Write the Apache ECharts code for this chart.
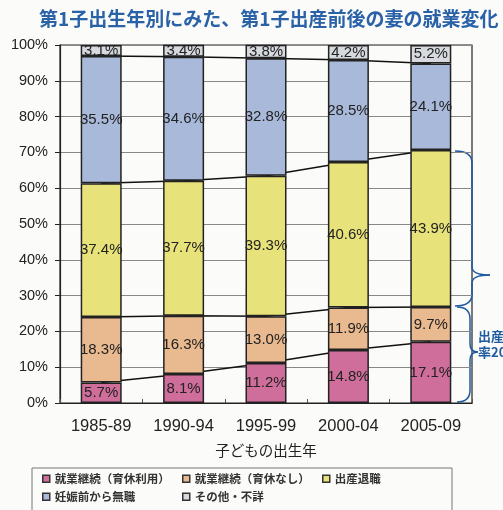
<!DOCTYPE html>
<html>
<head>
<meta charset="utf-8">
<script src="https://cdn.jsdelivr.net/npm/echarts@6/dist/echarts.min.js"></script>
<style>
html, body { margin: 0; padding: 0; background: #fbfbf9; }
#chart { width: 503px; height: 510px; }
</style>
</head>
<body>
<div id="chart"></div>
<script>
// 子どもの出生年
var years = ['1985-89', '1990-94', '1995-99', '2000-04', '2005-09'];
// 各区分の割合(%)
var ikukyuRiyou = [5.7, 8.1, 11.2, 14.8, 17.1];
var ikukyuNashi = [18.3, 16.3, 13.0, 11.9, 9.7];
var shussanTaishoku = [37.4, 37.7, 39.3, 40.6, 43.9];
var ninshinMae = [35.5, 34.6, 32.8, 28.5, 24.1];
var sonota = [3.1, 3.4, 3.8, 4.2, 5.2];
var yTicks = [0, 10, 20, 30, 40, 50, 60, 70, 80, 90, 100];

var names = ['就業継続（育休利用）', '就業継続（育休なし）', '出産退職', '妊娠前から無職', 'その他・不詳'];
var colors = ['#cf6e9a', '#e9b98f', '#e8e27a', '#a9b9d9', '#d6dade'];
var values = [ikukyuRiyou, ikukyuNashi, shussanTaishoku, ninshinMae, sonota];

var chart = echarts.init(document.getElementById('chart'));

var series = [];
//積み上げ棒
for (var i = 0; i < values.length; i++) {
    series.push({
        name: names[i],
        type: 'bar',
        stack: 'total',
        barWidth: 41,
        z: 3,
        data: values[i],
        itemStyle: { color: colors[i], borderColor: '#222', borderWidth: 1.5 },
        label: {
            show: true,
            position: 'inside',
            color: '#222',
            fontFamily: 'Liberation Sans',
            fontSize: 15,
            formatter: function (p) { return p.value.toFixed(1) + '%'; }
        }
    });
}
//区分の境目をつなぐ線
for (var j = 0; j < 4; j++) {
    series.push({
        name: 'line' + j,
        type: 'line',
        stack: 'lines',
        z: 1,
        symbol: 'none',
        silent: true,
        data: values[j],
        lineStyle: { color: '#111', width: 1.5 }
    });
}

//右側の括弧（飾り）
var braceStyle = { fill: 'none', stroke: '#1e5aa0', lineWidth: 1.5 };
function brace(x0, x1, top, tip, bottom, tipX) {
    var r = 12;
    return [
        { type: 'bezierCurve', shape: { x1: x0, y1: top, cpx1: x1, cpy1: top, x2: x1, y2: top + r }, style: braceStyle },
        { type: 'line', shape: { x1: x1, y1: top + r, x2: x1, y2: tip - 8 }, style: braceStyle },
        { type: 'bezierCurve', shape: { x1: x1, y1: tip - 8, cpx1: x1, cpy1: tip, x2: tipX, y2: tip }, style: braceStyle },
        { type: 'bezierCurve', shape: { x1: tipX, y1: tip, cpx1: x1, cpy1: tip, x2: x1, y2: tip + 8 }, style: braceStyle },
        { type: 'line', shape: { x1: x1, y1: tip + 8, x2: x1, y2: bottom - r }, style: braceStyle },
        { type: 'bezierCurve', shape: { x1: x1, y1: bottom - r, cpx1: x1, cpy1: bottom, x2: x0, y2: bottom }, style: braceStyle }
    ];
}

//凡例は項目ごとに位置を決める
var legendPos = [[37, 468], [177, 468], [317, 468], [37, 486], [177, 486]];
var legends = [];
for (var k = 0; k < names.length; k++) {
    legends.push({
        data: [names[k]],
        left: legendPos[k][0],
        top: legendPos[k][1],
        icon: 'rect',
        itemWidth: 7,
        itemHeight: 7,
        itemStyle: { borderColor: '#333', borderWidth: 1.5 },
        textStyle: { color: '#333', fontSize: 11.5, fontWeight: 'bold', fontFamily: 'Noto Sans CJK JP' },
        selectedMode: false
    });
}

var graphics = [{
    type: 'rect',
    shape: { x: 32, y: 468, width: 420, height: 60 },
    style: { fill: 'none', stroke: '#777', lineWidth: 1 }
}, {
    type: 'text',
    left: 478,
    top: 330,
    style: { text: '出産前有職', fill: '#1e5aa0', font: 'bold 13px "Noto Sans CJK JP"' }
}, {
    type: 'text',
    left: 478,
    top: 346,
    style: { text: '率2005', fill: '#1e5aa0', font: 'bold 13px "Noto Sans CJK JP"' }
}];
graphics = graphics.concat(brace(455, 472, 151, 275, 306, 490));
graphics = graphics.concat(brace(457, 470, 307, 352, 402, 478));

var option = {
    backgroundColor: '#fbfbf9',
    animation: false,
    title: {
        text: '第1子出生年別にみた、第1子出産前後の妻の就業変化',
        left: 34,
        top: 4,
        textStyle: { color: '#2a62a8', fontSize: 19, fontWeight: 'bold', fontFamily: 'Noto Sans CJK JP' }
    },
    grid: { left: 60, right: 31, top: 45, bottom: 107, show: true, borderColor: '#222', borderWidth: 1.2 },
    legend: legends,
    xAxis: {
        type: 'category',
        data: years,
        name: '子どもの出生年',
        nameLocation: 'middle',
        nameGap: 40,
        nameTextStyle: { color: '#222', fontSize: 14.5, fontFamily: 'Noto Sans CJK JP' },
        axisLine: { lineStyle: { color: '#222', width: 1.2 } },
        axisTick: { show: true, inside: true, length: 4, lineStyle: { color: '#555' } },
        axisLabel: { color: '#222', fontSize: 16.5, margin: 15, fontFamily: 'Liberation Sans' }
    },
    yAxis: {
        type: 'value',
        min: yTicks[0],
        max: yTicks[yTicks.length - 1],
        interval: 10,
        axisLine: { show: true, lineStyle: { color: '#222', width: 1.2 } },
        axisTick: { show: true, length: 5, lineStyle: { color: '#222' } },
        axisLabel: { color: '#222', fontSize: 14.5, margin: 12, fontFamily: 'Liberation Sans', formatter: '{value}%' },
        splitLine: { lineStyle: { color: '#888', width: 1 } }
    },
    graphic: graphics,
    series: series
};

chart.setOption(option);
</script>
</body>
</html>
